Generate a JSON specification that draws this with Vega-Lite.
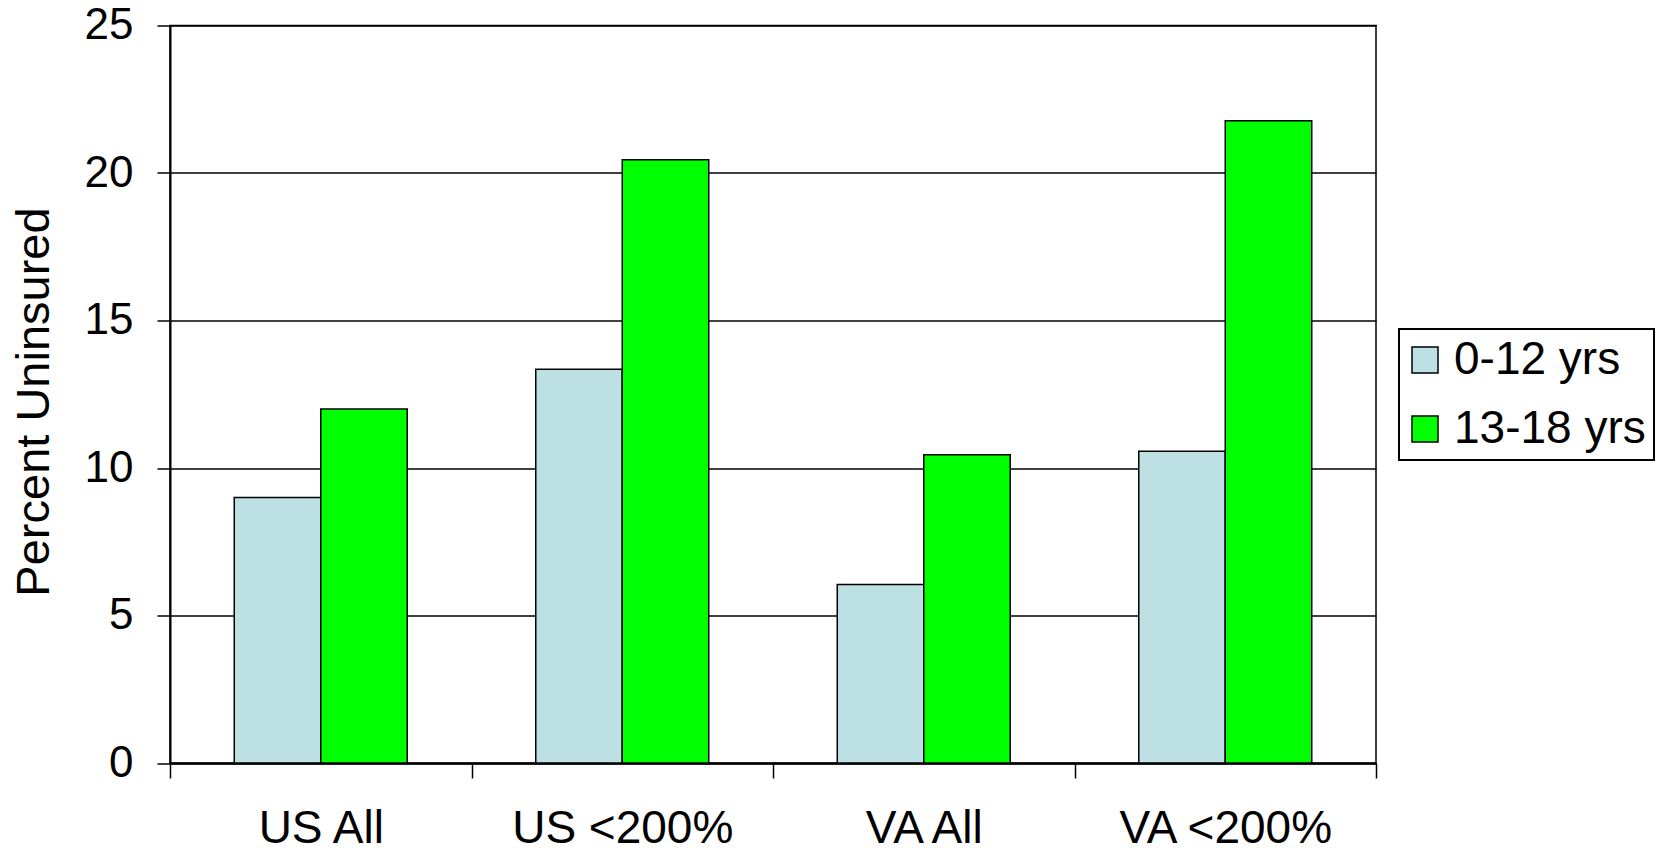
{
  "$schema": "https://vega.github.io/schema/vega-lite/v6.json",
  "width": 1206,
  "height": 737.5,
  "autosize": {"type": "none"},
  "padding": {"left": 170, "top": 25.5, "right": 291, "bottom": 89},
  "background": "white",
  "config": {
    "view": {"stroke": "black", "strokeWidth": 1.5},
    "font": "Liberation Sans",
    "legend": {"strokeWidth": 2}
  },
  "data": {
    "values": [
      {"group": "US All", "age": "0-12 yrs", "pct": 9.0},
      {"group": "US All", "age": "13-18 yrs", "pct": 12.0},
      {"group": "US <200%", "age": "0-12 yrs", "pct": 13.35},
      {"group": "US <200%", "age": "13-18 yrs", "pct": 20.45},
      {"group": "VA All", "age": "0-12 yrs", "pct": 6.05},
      {"group": "VA All", "age": "13-18 yrs", "pct": 10.45},
      {"group": "VA <200%", "age": "0-12 yrs", "pct": 10.57},
      {"group": "VA <200%", "age": "13-18 yrs", "pct": 21.77}
    ]
  },
  "mark": {"type": "bar", "stroke": "black", "strokeWidth": 1.5},
  "encoding": {
    "x": {
      "field": "group",
      "type": "nominal",
      "sort": ["US All", "US <200%", "VA All", "VA <200%"],
      "scale": {"paddingInner": 0, "paddingOuter": 0},
      "axis": {
        "title": null,
        "labelAngle": 0,
        "labelFontSize": 46,
        "labelColor": "black",
        "labelLimit": 0,
        "tickBand": "extent",
        "tickSize": 15,
        "tickColor": "black",
        "tickWidth": 1.5,
        "domainColor": "black",
        "domainWidth": 2,
        "labelBaseline": "alphabetic",
        "labelPadding": 64,
        "grid": false
      }
    },
    "xOffset": {
      "field": "age",
      "type": "nominal",
      "sort": ["0-12 yrs", "13-18 yrs"],
      "scale": {"paddingInner": 0, "paddingOuter": 0.743}
    },
    "y": {
      "field": "pct",
      "type": "quantitative",
      "scale": {"domain": [0, 25], "nice": false},
      "axis": {
        "title": "Percent Uninsured",
        "values": [0, 5, 10, 15, 20, 25],
        "grid": true,
        "gridColor": "black",
        "gridWidth": 1.5,
        "gridOpacity": 1,
        "tickSize": 13,
        "tickColor": "black",
        "tickWidth": 1.5,
        "domainColor": "black",
        "domainWidth": 2,
        "labelFontSize": 44,
        "labelColor": "black",
        "labelPadding": 24,
        "titleFontSize": 47,
        "titleFontWeight": "normal",
        "titleColor": "black",
        "titleX": -122,
        "titleY": 376,
        "titleBaseline": "alphabetic",
        "titleAngle": 270,
        "titleLimit": 0
      }
    },
    "color": {
      "field": "age",
      "type": "nominal",
      "scale": {"domain": ["0-12 yrs", "13-18 yrs"], "range": ["#BCE0E3", "#00FF00"]},
      "legend": {
        "title": null,
        "orient": "none",
        "legendX": 1229,
        "legendY": 303.5,
        "strokeColor": "black",
        "fillColor": "white",
        "padding": 8,
        "symbolType": "square",
        "symbolSize": 676,
        "symbolOffset": -5,
        "symbolStrokeColor": "black",
        "symbolStrokeWidth": 1.5,
        "labelFontSize": 46,
        "labelColor": "black",
        "labelLimit": 0,
        "labelOffset": 6,
        "rowPadding": 23
      }
    }
  }
}
